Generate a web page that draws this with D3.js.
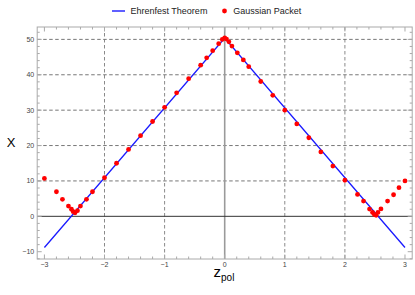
<!DOCTYPE html>
<html><head><meta charset="utf-8">
<script src="https://cdn.jsdelivr.net/npm/d3@7"></script>
<style>body{margin:0;background:#fff}svg{display:block}</style>
</head><body>
<script>
const lineZ = [-3, 0, 3];
const lineX = [-8.8, 50.4, -8.8];
const gaussZ = [-3.0,-2.8,-2.7,-2.6,-2.55,-2.52,-2.49,-2.45,-2.4,-2.3,-2.2,-2.0,-1.8,-1.6,-1.4,-1.2,-1.0,-0.8,-0.6,-0.4,-0.3,-0.2,-0.1,-0.04,0,0.03,0.07,0.12,0.21,0.31,0.4,0.6,0.8,1.0,1.2,1.4,1.6,1.8,2.0,2.21,2.31,2.41,2.46,2.49,2.52,2.55,2.6,2.71,2.81,2.9,3.0];
const gaussX = [10.7,6.95,4.8,2.9,2.0,1.3,1.0,1.6,2.9,4.8,6.95,10.9,15.0,18.9,22.8,26.8,30.8,34.9,38.9,42.7,44.8,46.8,48.8,50.0,50.4,50.1,49.3,48.1,46.2,44.2,42.3,38.1,34.2,30.0,26.1,22.2,18.2,14.2,10.2,6.2,4.3,2.06,1.1,0.5,0.3,1.1,2.1,4.3,6.1,8.1,10.0];
const xTicks = [-3,-2,-1,0,1,2,3];
const yTicks = [-10,0,10,20,30,40,50];
const xGrid = [-2,-1,1,2];
const yGrid = [10,20,30,40,50];
const legendLabels = ["Ehrenfest Theorem","Gaussian Packet"];

const W=415,H=295;
const L=37.2,R=412.2,T=27,B=259;
const svg=d3.select("body").append("svg").attr("width",W).attr("height",H);
const x=d3.scaleLinear().domain([-3.12,3.12]).range([L,R]);
const y=d3.scaleLinear().domain([-12.06,53.5]).range([B,T]);
const font="'Liberation Sans', Arial, sans-serif";

// grid
const g=svg.append("g");
g.selectAll(".gx").data(xGrid).enter().append("line")
 .attr("x1",d=>x(d)).attr("x2",d=>x(d)).attr("y1",T).attr("y2",B)
 .attr("stroke","#8a8a8a").attr("stroke-width",1).attr("stroke-dasharray","3.5,2.5");
g.selectAll(".gy").data(yGrid).enter().append("line")
 .attr("x1",L).attr("x2",R).attr("y1",d=>y(d)).attr("y2",d=>y(d))
 .attr("stroke","#777").attr("stroke-width",1).attr("stroke-dasharray","3.5,2.5");
// axes at zero
g.append("line").attr("x1",x(0)).attr("x2",x(0)).attr("y1",T).attr("y2",B)
 .attr("stroke","#9a9a9a").attr("stroke-width",1.6);
g.append("line").attr("x1",L).attr("x2",R).attr("y1",y(0)).attr("y2",y(0))
 .attr("stroke","#333").attr("stroke-width",1);

// frame with inward ticks
const fr=svg.append("g");
fr.append("rect").attr("x",L).attr("y",T).attr("width",R-L).attr("height",B-T)
 .attr("fill","none").attr("stroke","#aaa").attr("stroke-width",1);
const xMinor=d3.range(-3.0,3.01,0.2).map(v=>Math.round(v*10)/10).filter(v=>!xTicks.includes(v));
const yMinor=d3.range(-12,54,2).filter(v=>!yTicks.includes(v));
function tickLines(vals,len){
  vals.forEach(v=>{
    fr.append("line").attr("x1",x(v)).attr("x2",x(v)).attr("y1",B).attr("y2",B-len).attr("stroke","#aaa");
    fr.append("line").attr("x1",x(v)).attr("x2",x(v)).attr("y1",T).attr("y2",T+len).attr("stroke","#aaa");
  });
}
function tickLinesY(vals,len){
  vals.forEach(v=>{
    fr.append("line").attr("y1",y(v)).attr("y2",y(v)).attr("x1",L).attr("x2",L+len).attr("stroke","#aaa");
    fr.append("line").attr("y1",y(v)).attr("y2",y(v)).attr("x1",R).attr("x2",R-len).attr("stroke","#aaa");
  });
}
tickLines(xTicks,4.5); tickLines(xMinor,2.5);
tickLinesY(yTicks,4.5); tickLinesY(yMinor.filter(v=>y(v)>=T&&y(v)<=B),2.5);

const fmt=v=>v<0?"\u2212"+Math.abs(v):String(v);
svg.selectAll(".xl").data(xTicks).enter().append("text")
 .attr("x",d=>x(d)).attr("y",B+8).attr("text-anchor","middle")
 .attr("font-family",font).attr("font-size",7).attr("fill","#444").text(fmt);
svg.selectAll(".yl").data(yTicks).enter().append("text")
 .attr("x",L-3).attr("y",d=>y(d)+2.5).attr("text-anchor","end")
 .attr("font-family",font).attr("font-size",7).attr("fill","#444").text(fmt);

// series
const lineGen=d3.line().x(d=>x(d[0])).y(d=>y(d[1]));
svg.append("path").datum(d3.zip(lineZ,lineX)).attr("d",lineGen)
 .attr("fill","none").attr("stroke","#1a1aff").attr("stroke-width",1.3);
svg.selectAll(".pt").data(d3.zip(gaussZ,gaussX)).enter().append("circle")
 .attr("cx",d=>x(d[0])).attr("cy",d=>y(d[1])).attr("r",2.4).attr("fill","#ff0000");

// axis labels
svg.append("text").attr("x",11).attr("y",147).attr("text-anchor","middle")
 .attr("font-family",font).attr("font-size",13).attr("fill","#000").text("X");
const xl=svg.append("text").attr("x",224).attr("y",277).attr("text-anchor","middle")
 .attr("font-family",font).attr("fill","#000");
xl.append("tspan").attr("font-size",15).text("z");
xl.append("tspan").attr("font-size",10).attr("dy",4).text("pol");

// legend
const lg=svg.append("g");
lg.append("line").attr("x1",112).attr("x2",125).attr("y1",11).attr("y2",11)
 .attr("stroke","#1a1aff").attr("stroke-width",1.4);
lg.append("text").attr("x",130.5).attr("y",14.2).attr("font-family",font).attr("font-size",9)
 .attr("fill","#222").text(legendLabels[0]);
lg.append("circle").attr("cx",224.5).attr("cy",11).attr("r",2.4).attr("fill","#ff0000");
lg.append("text").attr("x",233.3).attr("y",14.2).attr("font-family",font).attr("font-size",9)
 .attr("fill","#222").text(legendLabels[1]);
</script>
</body></html>
